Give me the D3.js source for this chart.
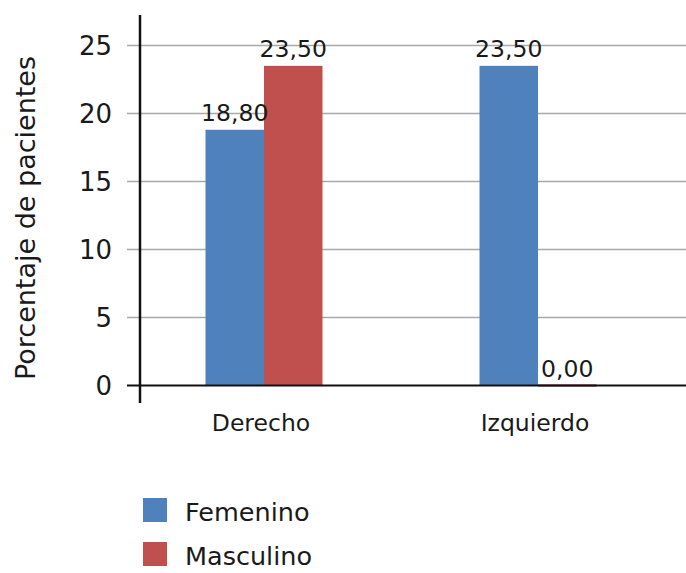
<!DOCTYPE html>
<html>
<head>
<meta charset="utf-8">
<script src="https://cdn.jsdelivr.net/npm/d3@7/dist/d3.min.js"></script>
<style>
  html, body { margin: 0; padding: 0; background: #fff; }
  svg { display: block; }
  text { font-family: "DejaVu Sans", Verdana, sans-serif; fill: #1a1a1a; }
</style>
</head>
<body>
<svg id="chart" width="686" height="573"></svg>
<script>
// Lado afectado por sexo (porcentaje de pacientes)
const categories = ["Derecho", "Izquierdo"];
const seriesNames = ["Femenino", "Masculino"];
const femenino = [18.8, 23.5];
const masculino = [23.5, 0.0];
const yTicks = [0, 5, 10, 15, 20, 25];
const yTitle = "Porcentaje de pacientes";

const colors = { Femenino: "#4F81BD", Masculino: "#C0504D" };
const values = { Femenino: femenino, Masculino: masculino };

const W = 686, H = 573;
const svg = d3.select("#chart");

const axisX = 140;        // vertical axis position
const gridLeft = 127;     // gridlines/ticks start a bit left of the axis

const y = d3.scaleLinear().domain([0, 27.2]).range([385.5, 15.5]);
const x0 = d3.scaleBand().domain(categories).range([127, 675]).padding(0);
const groupW = 117;
const x1 = d3.scaleBand().domain(seriesNames).range([0, groupW]).padding(0);

const fmt = v => v.toFixed(2).replace(".", ",");

// Horizontal gridlines (with the short tick stub left of the axis)
svg.append("g")
  .selectAll("line")
  .data(yTicks.filter(t => t !== 0))
  .join("line")
  .attr("x1", gridLeft).attr("x2", W)
  .attr("y1", d => y(d)).attr("y2", d => y(d))
  .attr("stroke", "#a9a9a9")
  .attr("stroke-width", 1.5);

// Y tick labels
svg.append("g")
  .selectAll("text")
  .data(yTicks)
  .join("text")
  .attr("x", 112)
  .attr("y", d => y(d))
  .attr("dy", "0.35em")
  .attr("text-anchor", "end")
  .attr("font-size", 26)
  .text(d => d);

// Bar groups
const groups = svg.append("g")
  .selectAll("g")
  .data(categories)
  .join("g")
  .attr("transform", c => `translate(${x0(c) + (x0.bandwidth() - groupW) / 2},0)`);

// Baseline (category axis)
svg.append("line")
  .attr("x1", gridLeft).attr("x2", W)
  .attr("y1", y(0)).attr("y2", y(0))
  .attr("stroke", "#111").attr("stroke-width", 2.2);

const barData = (c, i) => seriesNames.map(s => ({ s, v: values[s][i] }));

groups.selectAll("rect")
  .data(barData)
  .join("rect")
  .attr("x", d => x1(d.s))
  .attr("width", x1.bandwidth())
  .attr("y", d => y(d.v))
  .attr("height", d => y(0) - y(d.v))
  .attr("fill", d => colors[d.s]);

// Zero-height bars still show as a thin line on the baseline
groups.selectAll("line.zero")
  .data((c, i) => barData(c, i).filter(d => d.v === 0))
  .join("line")
  .attr("class", "zero")
  .attr("x1", d => x1(d.s)).attr("x2", d => x1(d.s) + x1.bandwidth())
  .attr("y1", d => y(d.v)).attr("y2", d => y(d.v))
  .attr("stroke", "#6e2523").attr("stroke-width", 2.2);

// Value labels
groups.selectAll("text.val")
  .data(barData)
  .join("text")
  .attr("class", "val")
  .attr("x", d => x1(d.s) + x1.bandwidth() / 2)
  .attr("y", d => y(d.v) - 9)
  .attr("text-anchor", "middle")
  .attr("font-size", 23.5)
  .text(d => fmt(d.v));

// Vertical axis line
svg.append("line")
  .attr("x1", axisX).attr("x2", axisX)
  .attr("y1", 15).attr("y2", 403)
  .attr("stroke", "#111").attr("stroke-width", 2.5);

// Category labels
svg.append("g")
  .selectAll("text")
  .data(categories)
  .join("text")
  .attr("x", c => x0(c) + x0.bandwidth() / 2 - 3)
  .attr("y", 431)
  .attr("text-anchor", "middle")
  .attr("font-size", 23.5)
  .text(c => c);

// Y axis title
svg.append("text")
  .attr("transform", "translate(35,218) rotate(-90)")
  .attr("text-anchor", "middle")
  .attr("font-size", 27)
  .text(yTitle);

// Legend
const legend = svg.append("g")
  .selectAll("g")
  .data(seriesNames)
  .join("g")
  .attr("transform", (d, i) => `translate(143,${498 + i * 44})`);

legend.append("rect")
  .attr("width", 24).attr("height", 24)
  .attr("fill", d => colors[d]);

legend.append("text")
  .attr("x", 42).attr("y", 23)
  .attr("font-size", 25.5)
  .text(d => d);
</script>
</body>
</html>
